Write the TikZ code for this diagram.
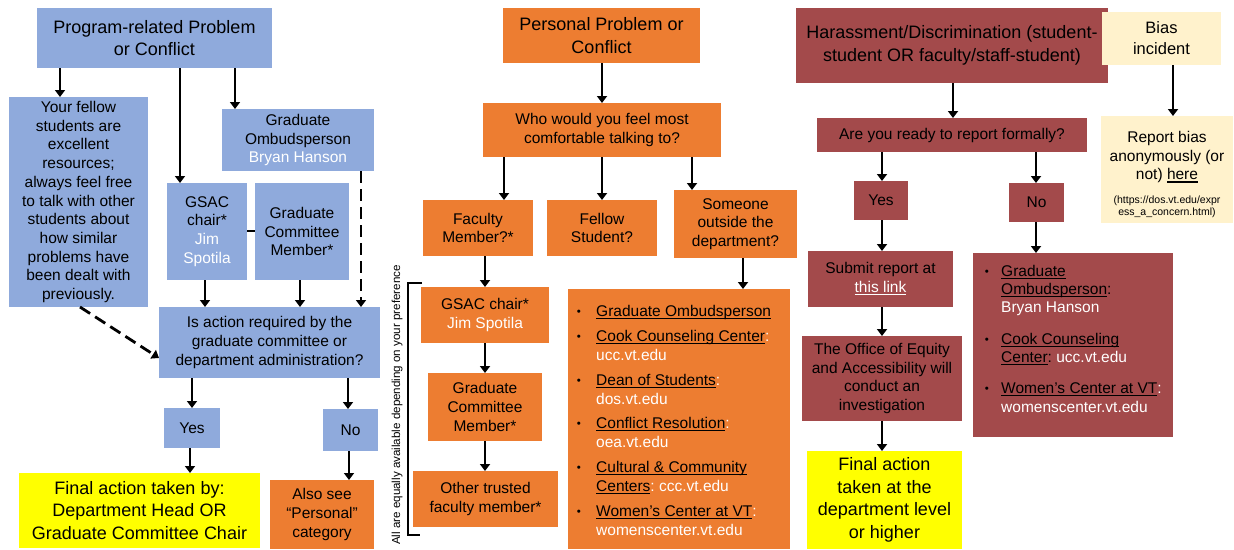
\documentclass[tikz,border=0pt]{standalone}
\usepackage{fontspec}
\setmainfont{Liberation Sans}
\usetikzlibrary{arrows.meta}
\definecolor{cblue}{HTML}{8FAADC}
\definecolor{corange}{HTML}{ED7D31}
\definecolor{cmaroon}{HTML}{A34A4B}
\definecolor{clight}{HTML}{FFF2CC}
\definecolor{cyellow}{HTML}{FFFF00}
\frenchspacing
\newcommand\fs{\fontsize{15.5}{18.7}\selectfont}
\newcommand\fl{\fontsize{18}{22.5}\selectfont}
\newcommand\ul[1]{\setbox0\hbox{#1}\rlap{\rule[-2.9pt]{\wd0}{1.3pt}}\box0}
\newcommand\wh[1]{\textcolor{white}{#1}}
\newcommand\bx[7]{\node[box,#2,anchor=north west,minimum width={(#5-#3)*1pt},minimum height={(#6-#4)*1pt}] (#1) at (#3,#4) {#7};}
\begin{document}
\begin{tikzpicture}[x=1pt,y=-1pt,
  box/.style={inner sep=0pt,outer sep=0pt,align=center,font=\fs},
  blue/.style={fill=cblue},
  orng/.style={fill=corange},
  marn/.style={fill=cmaroon},
  lyel/.style={fill=clight},
  yel/.style={fill=cyellow},
  big/.style={font=\fl},
  arr/.style={line width=2.8pt,-{Triangle[length=7pt,width=10pt]}},
  dsh/.style={dash pattern=on 12pt off 6pt},
  conn/.style={line width=2.8pt},
  item/.style={anchor=base west,inner sep=0pt,font=\fs},
  bul/.style={anchor=base,inner sep=0pt,font=\fontsize{11.5}{11.5}\selectfont}]
\useasboundingbox (0,0) rectangle (1234,549);
% ---------- left column ----------
\bx{prog}{blue,big}{37}{8}{272}{68}{Program-related Problem\\or Conflict}
\bx{fellow}{blue}{9}{97}{148}{307}{Your fellow\\students are\\excellent\\resources;\\always feel free\\to talk with other\\students about\\how similar\\problems have\\been dealt with\\previously.}
\bx{omb}{blue}{222}{109}{374}{171}{Graduate\\Ombudsperson\\\wh{Bryan Hanson}}
\bx{gsac}{blue}{167}{183}{247}{280}{GSAC\\chair*\\\wh{Jim}\\\wh{Spotila}}
\bx{gcm}{blue}{255}{183}{349}{280}{Graduate\\Committee\\Member*}
\bx{isact}{blue}{159}{307}{380}{378}{Is action required by the\\graduate committee or\\department administration?}
\bx{yes1}{blue}{164}{408}{220}{448}{Yes}
\bx{no1}{blue}{323}{409}{378}{451}{No}
\bx{fin1}{yel,big}{19}{473}{260}{548}{Final action taken by:\\Department Head OR\\Graduate Committee Chair}
\bx{also}{orng}{270}{480}{374}{549}{Also see\\“Personal”\\category}
\draw[arr] (prog.south -| 60,0) -- (fellow.north -| 60,0);
\draw[arr] (prog.south -| 180,0) -- (gsac.north -| 180,0);
\draw[arr] (prog.south -| 235,0) -- (omb.north -| 235,0);
\draw[conn] (gsac.east |- 0,231) -- (gcm.west |- 0,231);
\draw[arr] (gsac.south -| 205,0) -- (isact.north -| 205,0);
\draw[arr] (gcm.south -| 300,0) -- (isact.north -| 300,0);
\draw[arr,dsh] (omb.south -| 361,0) -- (isact.north -| 361,0);
\draw[arr,dsh] (fellow.south -| 80,0) -- (isact.west |- 0,358);
\draw[arr] (isact.south -| 192,0) -- (yes1.north -| 192,0);
\draw[arr] (isact.south -| 348,0) -- (no1.north -| 348,0);
\draw[arr] (yes1.south -| 190,0) -- (fin1.north -| 190,0);
\draw[arr] (no1.south -| 349,0) -- (also.north -| 349,0);
% ---------- middle column ----------
\bx{pers}{orng,big}{503}{8}{700}{63}{Personal Problem or\\Conflict}
\bx{who}{orng}{483}{103}{721}{157}{Who would you feel most\\comfortable talking to?}
\bx{fac}{orng}{423}{200}{533}{256}{Faculty\\Member?*}
\bx{fel}{orng}{547}{200}{657}{256}{Fellow\\Student?}
\bx{out}{orng}{674}{190}{797}{258}{Someone\\outside the\\department?}
\bx{gsac2}{orng}{421}{287}{549}{343}{GSAC chair*\\\wh{Jim Spotila}}
\bx{gcm2}{orng}{428}{373}{542}{441}{Graduate\\Committee\\Member*}
\bx{oth}{orng}{413}{471}{558}{527}{Other trusted\\faculty member*}
\bx{plist}{orng}{568}{289}{790}{549}{}
\draw[arr] (pers.south -| 602,0) -- (who.north -| 602,0);
\draw[arr] (who.south -| 504,0) -- (fac.north -| 504,0);
\draw[arr] (who.south -| 602,0) -- (fel.north -| 602,0);
\draw[arr] (who.south -| 692,0) -- (out.north -| 692,0);
\draw[arr] (fac.south -| 485,0) -- (gsac2.north -| 485,0);
\draw[arr] (gsac2.south -| 485,0) -- (gcm2.north -| 485,0);
\draw[arr] (gcm2.south -| 485,0) -- (oth.north -| 485,0);
\draw[arr] (out.south -| 743,0) -- (plist.north -| 743,0);
\node[bul] (pb1) at (579,315) {•};
\node[item] (p1) at (596,316) {\ul{Graduate Ombudsperson}};
\node[bul] (pb2) at (579,340) {•};
\node[item] (p2) at (596,341) {\ul{Cook Counseling Center}\wh{:}};
\node[item] (p3) at (596,360) {\wh{ucc.vt.edu}};
\node[bul] (pb3) at (579,384) {•};
\node[item] (p4) at (596,385) {\ul{Dean of Students}\wh{:}};
\node[item] (p5) at (596,404) {\wh{dos.vt.edu}};
\node[bul] (pb4) at (579,427) {•};
\node[item] (p6) at (596,428) {\ul{Conflict Resolution}\wh{:}};
\node[item] (p7) at (596,447) {\wh{oea.vt.edu}};
\node[bul] (pb5) at (579,471) {•};
\node[item] (p8) at (596,472) {\ul{Cultural \& Community}};
\node[item] (p9) at (596,491) {\ul{Centers}\wh{: ccc.vt.edu}};
\node[bul] (pb6) at (579,515) {•};
\node[item] (p10) at (596,516) {\ul{Women’s Center at VT}\wh{:}};
\node[item] (p11) at (596,535) {\wh{womenscenter.vt.edu}};
% bracket and rotated note
\draw[line width=1.2pt] (422,283) -- (408,283) -- (408,535) -- (420,535);
\node[rotate=90,inner sep=0pt,font=\fontsize{11.6}{11.6}\selectfont] (note) at (397,405) {All are equally available depending on your preference};
% ---------- right column ----------
\bx{har}{marn,big}{796}{8}{1108}{83}{Harassment/Discrimination (student-\\student OR faculty/staff-student)}
\bx{bias}{lyel,font=\fontsize{16.5}{21}\selectfont}{1102}{12}{1221}{65}{Bias\\incident}
\bx{rep}{lyel}{1101}{116}{1233}{223}{}
\node[box] (rept) at (1167,157) {Report bias\\anonymously (or\\not) \ul{here}};
\node[box,font=\fontsize{10.5}{12}\selectfont] (repu) at (1167,207) {(https://dos.vt.edu/expr\\ess\_a\_concern.html)};
\bx{ready}{marn}{817}{118}{1087}{152}{Are you ready to report formally?}
\bx{yes2}{marn}{854}{181}{908}{220}{Yes}
\bx{no2}{marn}{1009}{183}{1064}{222}{No}
\bx{sub}{marn}{808}{251}{953}{307}{Submit report at\\\wh{\ul{this link}}}
\bx{off}{marn}{802}{336}{962}{421}{The Office of Equity\\and Accessibility will\\conduct an\\investigation}
\bx{fin2}{yel,big}{807}{451}{962}{549}{Final action\\taken at the\\department level\\or higher}
\bx{rlist}{marn}{973}{253}{1173}{437}{}
\draw[arr] (har.south -| 953,0) -- (ready.north -| 953,0);
\draw[arr] (bias.south -| 1173,0) -- (rep.north -| 1173,0);
\draw[arr] (ready.south -| 882,0) -- (yes2.north -| 882,0);
\draw[arr] (ready.south -| 1036,0) -- (no2.north -| 1036,0);
\draw[arr] (yes2.south -| 882,0) -- (sub.north -| 882,0);
\draw[arr] (sub.south -| 882,0) -- (off.north -| 882,0);
\draw[arr] (off.south -| 882,0) -- (fin2.north -| 882,0);
\draw[arr] (no2.south -| 1036,0) -- (rlist.north -| 1036,0);
\node[bul] (rb1) at (987,275) {•};
\node[item] (r1) at (1001,276) {\ul{Graduate}};
\node[item] (r2) at (1001,294) {\ul{Ombudsperson}:};
\node[item] (r3) at (1001,312) {\wh{Bryan Hanson}};
\node[bul] (rb2) at (987,343) {•};
\node[item] (r4) at (1001,344) {\ul{Cook Counseling}};
\node[item] (r5) at (1001,362) {\ul{Center}: \wh{ucc.vt.edu}};
\node[bul] (rb3) at (987,392) {•};
\node[item] (r6) at (1001,393) {\ul{Women’s Center at VT}\wh{:}};
\node[item] (r7) at (1001,412) {\wh{womenscenter.vt.edu}};
\end{tikzpicture}
\end{document}
